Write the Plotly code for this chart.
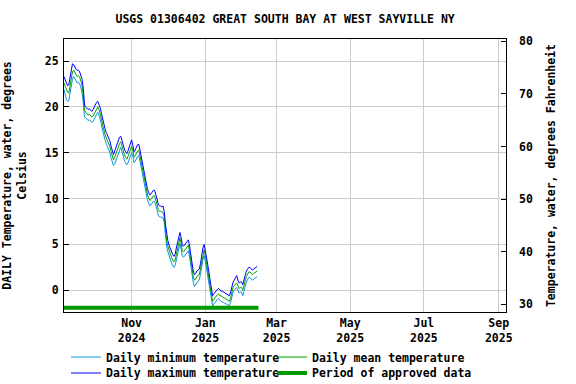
import pandas as pd
import plotly.graph_objects as go

title = "USGS 01306402 GREAT SOUTH BAY AT WEST SAYVILLE NY"
start_date = "2024-09-06"

mean_c = [22.6, 22.2, 21.8, 21.6, 21.5, 22.4, 23.3, 23.8, 24.0, 23.7,
          23.5, 23.3, 23.4, 23.2, 22.8, 22.3, 21.2, 19.6, 19.4, 19.3,
          19.1, 19.2, 19.0, 18.9, 19.0, 19.3, 19.6, 19.9, 20.0, 19.7,
          19.3, 18.7, 18.0, 17.4, 17.0, 16.6, 16.3, 16.0, 15.7, 15.1,
          14.6, 14.2, 14.5, 14.9, 15.3, 15.7, 16.0, 16.2, 15.7, 15.1,
          14.8, 14.5, 14.3, 14.6, 15.0, 15.4, 15.7, 15.2, 14.5, 14.7,
          15.0, 15.2, 15.3, 14.6, 13.8, 13.1, 12.6, 12.0, 11.0, 10.5,
          10.1, 9.8, 9.9, 10.1, 10.3, 10.3, 9.9, 9.4, 8.8, 8.6,
          8.6, 8.5, 8.5, 8.0, 6.6, 5.4, 4.8, 4.3, 3.9, 3.6,
          3.3, 3.1, 3.3, 3.9, 4.6, 5.3, 5.7, 5.1, 4.3, 4.2,
          4.4, 4.6, 4.8, 4.9, 4.2, 3.2, 2.2, 1.5, 1.1, 1.2,
          1.5, 1.6, 1.7, 2.3, 3.1, 3.9, 4.4, 3.8, 3.0, 2.2,
          1.4, 0.3, -0.6, -1.2, -1.0, -0.8, -0.6, -0.5, -0.4, -0.6,
          -0.6, -0.7, -0.8, -0.9, -1.0, -1.0, -1.1, -1.2, -0.8, -0.2,
          0.3, 0.5, 0.7, 0.8, 0.5, 0.2, 0.3, 0.3, 0.0, 0.4,
          1.0, 1.5, 1.8, 2.0, 2.0, 1.8, 1.7, 1.8, 1.9, 2.0, 2.1]

max_c = [23.3, 23.0, 22.5, 22.3, 22.4, 23.3, 24.2, 24.7, 24.6, 24.3,
         24.1, 24.0, 24.0, 23.8, 23.4, 23.0, 22.0, 20.2, 20.0, 19.9,
         19.7, 19.8, 19.6, 19.5, 19.7, 20.0, 20.3, 20.5, 20.6, 20.3,
         19.9, 19.3, 18.6, 18.0, 17.6, 17.2, 16.9, 16.6, 16.3, 15.7,
         15.2, 14.8, 15.2, 15.6, 16.0, 16.4, 16.7, 16.8, 16.3, 15.7,
         15.4, 15.1, 14.9, 15.2, 15.7, 16.1, 16.4, 15.8, 15.1, 15.3,
         15.7, 15.9, 15.9, 15.2, 14.4, 13.7, 13.2, 12.6, 11.6, 11.1,
         10.7, 10.4, 10.5, 10.7, 10.9, 10.9, 10.5, 10.0, 9.4, 9.2,
         9.2, 9.1, 9.2, 8.6, 7.2, 6.0, 5.4, 4.9, 4.5, 4.2,
         3.9, 3.7, 3.9, 4.6, 5.3, 6.0, 6.3, 5.7, 4.9, 4.8,
         5.0, 5.2, 5.4, 5.5, 4.8, 3.8, 2.8, 2.1, 1.7, 1.8,
         2.1, 2.2, 2.3, 2.9, 3.8, 4.6, 5.0, 4.4, 3.6, 2.8,
         2.0, 0.9, 0.0, -0.6, -0.4, -0.2, 0.0, 0.1, 0.2, 0.0,
         -0.1, -0.1, -0.2, -0.3, -0.4, -0.4, -0.5, -0.6, -0.2, 0.4,
         0.9, 1.1, 1.4, 1.6, 1.1, 0.8, 0.9, 0.9, 0.6, 1.0,
         1.6, 2.1, 2.4, 2.5, 2.5, 2.3, 2.2, 2.3, 2.4, 2.5, 2.6]

min_c = [21.9, 21.3, 20.8, 20.6, 20.7, 21.5, 22.5, 23.0, 23.3, 23.0,
         22.8, 22.6, 22.7, 22.5, 22.1, 21.5, 20.4, 18.9, 18.8, 18.7,
         18.5, 18.6, 18.4, 18.3, 18.4, 18.6, 18.9, 19.2, 19.4, 19.1,
         18.7, 18.1, 17.4, 16.8, 16.4, 16.0, 15.7, 15.4, 15.0, 14.4,
         13.9, 13.6, 13.8, 14.2, 14.6, 15.0, 15.3, 15.6, 15.1, 14.5,
         14.2, 13.9, 13.7, 13.9, 14.3, 14.7, 15.0, 14.6, 13.9, 14.1,
         14.4, 14.6, 14.7, 14.0, 13.2, 12.5, 12.0, 11.4, 10.4, 9.9,
         9.5, 9.2, 9.3, 9.5, 9.7, 9.7, 9.3, 8.8, 8.2, 8.0,
         8.0, 7.9, 7.9, 7.4, 6.0, 4.8, 4.2, 3.7, 3.3, 3.0,
         2.7, 2.5, 2.7, 3.3, 4.0, 4.7, 5.1, 4.5, 3.7, 3.6,
         3.8, 4.0, 4.2, 4.3, 3.6, 2.6, 1.6, 0.9, 0.4, 0.6,
         0.9, 1.0, 1.1, 1.7, 2.5, 3.3, 3.8, 3.2, 2.4, 1.6,
         0.8, -0.3, -1.2, -1.7, -1.5, -1.3, -1.1, -1.0, -0.9, -1.1,
         -1.2, -1.3, -1.3, -1.4, -1.5, -1.5, -1.6, -1.7, -1.3, -0.7,
         -0.2, 0.0, 0.2, 0.3, 0.0, -0.3, -0.2, -0.2, -0.6, -0.2,
         0.4, 0.9, 1.2, 1.4, 1.4, 1.2, 1.1, 1.2, 1.3, 1.4, 1.5]

approved_dates = ["2024-09-06", "2025-02-14"]
approved_level = [-1.9, -1.9]

x_tick_dates = ["2024-11-01", "2025-01-01", "2025-03-01", "2025-05-01", "2025-07-01", "2025-09-01"]
x_tick_text = ["Nov<br>2024", "Jan<br>2025", "Mar<br>2025", "May<br>2025", "Jul<br>2025", "Sep<br>2025"]
y_left_ticks = [0, 5, 10, 15, 20, 25]
y_right_ticks = [30, 40, 50, 60, 70, 80]

dates = pd.date_range(start_date, periods=len(mean_c), freq="D")

FONT = "DejaVu Sans Mono"
FS = 11.5
fig = go.Figure()
fig.add_trace(go.Scatter(x=dates, y=min_c, mode="lines", name="Daily minimum temperature",
                         line=dict(color="#0a96dc", width=1), legend="legend"))
fig.add_trace(go.Scatter(x=dates, y=mean_c, mode="lines", name="Daily mean temperature",
                         line=dict(color="#00a000", width=1), legend="legend"))
fig.add_trace(go.Scatter(x=dates, y=max_c, mode="lines", name="Daily maximum temperature",
                         line=dict(color="#0000ff", width=1), legend="legend2"))
fig.add_trace(go.Scatter(x=pd.to_datetime(approved_dates), y=approved_level, mode="lines",
                         name="Period of approved data",
                         line=dict(color="#009a00", width=4), legend="legend2"))
# invisible trace to activate right axis
fig.add_trace(go.Scatter(x=[dates[0]], y=[50], yaxis="y2", mode="markers",
                         marker=dict(opacity=0), showlegend=False, hoverinfo="skip"))

leg_common = dict(orientation="h", xanchor="left", yanchor="middle",
                  entrywidth=161, entrywidthmode="pixels",
                  font=dict(family=FONT, size=FS, weight="bold"),
                  itemwidth=30, bgcolor="rgba(0,0,0,0)", borderwidth=0)

fig.update_layout(
    width=576, height=384,
    margin=dict(l=64, r=70, t=39, b=72, autoexpand=False),
    paper_bgcolor="white", plot_bgcolor="white",
    font=dict(family=FONT, size=FS, color="black", weight="bold"),
    title=dict(text=title, x=0.495, xanchor="center", y=0.95, yanchor="middle",
               font=dict(family=FONT, size=FS, weight="bold")),
    showlegend=True,
    legend=dict(x=0.0045, y=-0.165, **leg_common),
    legend2=dict(x=0.0045, y=-0.2234, **leg_common),
    xaxis=dict(type="date", range=["2024-09-06", "2025-09-07"],
               tickvals=pd.to_datetime(x_tick_dates), ticktext=x_tick_text,
               showgrid=True, gridcolor="#cccccc", gridwidth=1,
               showline=True, linecolor="black", linewidth=1, mirror=True,
               ticks="", zeroline=False, automargin=False),
    yaxis=dict(range=[-2.37, 27.4], tickvals=y_left_ticks,
               showgrid=True, gridcolor="#cccccc", gridwidth=1,
               showline=True, linecolor="black", linewidth=1, mirror=True,
               ticks="inside", ticklen=5, tickcolor="black", zeroline=False,
               automargin=False, ticklabelstandoff=2,
               title=dict(text="DAILY Temperature, water, degrees<br>Celsius",
                          font=dict(family=FONT, size=FS, weight="bold"))),
    yaxis2=dict(range=[28.54, 80.44], tickvals=y_right_ticks, overlaying="y", side="right",
                showgrid=False, ticks="inside", ticklen=5, tickcolor="black",
                zeroline=False, showline=False, automargin=False, ticklabelstandoff=12,
                title=dict(text="Temperature, water, degrees Fahrenheit",
                           font=dict(family=FONT, size=FS, weight="bold"))),
)

fig.write_html("out.html")
